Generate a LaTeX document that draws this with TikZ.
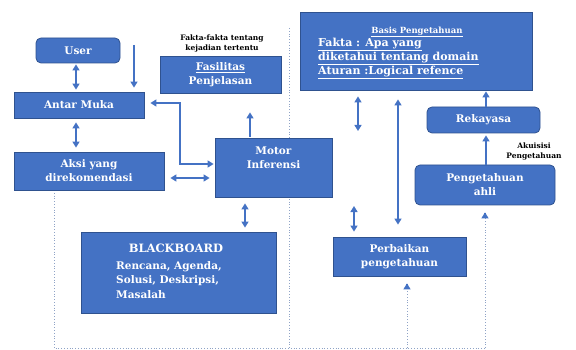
\documentclass[tikz,border=0pt]{standalone}
\usepackage{fontspec}
\setmainfont{DejaVu Serif}
\usetikzlibrary{arrows.meta,positioning}
\definecolor{boxblue}{HTML}{4472C4}
\definecolor{edgeblue}{HTML}{2F528F}
\definecolor{dotgrey}{HTML}{8FA3C6}

\begin{document}
\begin{tikzpicture}[x=1pt,y=-1pt,>={Triangle[length=6pt,width=7pt]},
  blok/.style={draw=edgeblue,line width=0.8pt,fill=boxblue,text=white,
    font=\bfseries\fontsize{10.5}{14}\selectfont,inner sep=0pt,align=center},
  bulat/.style={blok,rounded corners=5pt},
  conn/.style={draw=boxblue,line width=1.4pt},
  titik/.style={draw=dotgrey,line width=0.8pt,dotted}]
\useasboundingbox (0,0) rectangle (576,350);
% garis putus-putus
\draw[titik] (289,28)--(289,348);
\draw[titik] (54,190)--(54,348)--(485,348);
% kotak
\node[bulat,minimum width=84pt,minimum height=25pt] (user) at (78,50.5) {User};
\node[blok,minimum width=130pt,minimum height=26pt] (antar) at (79,105) {Antar Muka};
\node[blok,minimum width=150pt,minimum height=38pt] (aksi) at (89,171) {Aksi yang\\direkomendasi};
\node[blok,minimum width=117pt,minimum height=59pt] (motor) at (273.5,167.5) {Motor\\Inferensi\\[6pt]};
\node[blok,minimum width=121pt,minimum height=37pt] (fasil) at (220.5,74.5) {\underline{Fasilitas}\\Penjelasan};
\node[font=\bfseries\fontsize{7.5}{10}\selectfont,align=center,inner sep=0pt] (fakta) at (222,43) {Fakta-fakta tentang\\kejadian tertentu};
\node[blok,minimum width=195pt,minimum height=81pt] (bb) at (178.5,272.5) {};
\node[text=white,font=\bfseries\fontsize{11.5}{14}\selectfont,inner sep=0pt] (bbjudul) at (176,248) {BLACKBOARD};
\node[text=white,font=\bfseries\fontsize{10.5}{14.5}\selectfont,align=left,anchor=north west,inner sep=0pt] (bbisi) at (116,261) {Rencana, Agenda,\\Solusi, Deskripsi,\\Masalah};
\node[blok,minimum width=232pt,minimum height=78pt] (basis) at (416,51) {};
\node[text=white,font=\bfseries\fontsize{8.5}{10}\selectfont,inner sep=0pt] (basisjudul) at (417,32) {\underline{Basis Pengetahuan}};
\node[text=white,font=\bfseries\fontsize{11}{14}\selectfont,align=left,anchor=north west,inner sep=0pt] (basisisi) at (318,38)
  {\underline{Fakta : Apa yang}\\\underline{diketahui tentang domain}\\\underline{Aturan :Logical refence}};
\node[bulat,minimum width=113pt,minimum height=26pt] (rekayasa) at (483.5,120) {Rekayasa};
\node[bulat,minimum width=140pt,minimum height=40pt] (ahli) at (485,185) {Pengetahuan\\ahli};
\node[blok,minimum width=133pt,minimum height=39pt] (perbaikan) at (399.5,256.5) {Perbaikan\\pengetahuan};
\node[font=\bfseries\fontsize{7.5}{10}\selectfont,align=center,inner sep=0pt] (akuisisi) at (534,151) {Akuisisi\\Pengetahuan};
% panah
\coordinate (masuk) at (134,45);
\coordinate (motoratas) at (358,131);
\coordinate (perbatas) at (354,206);
\draw[conn,<->,shorten <=1pt,shorten >=2pt] (user.south -| 76,0) -- (antar.north -| 76,0);
\draw[conn,->,shorten >=4pt] (masuk) -- (antar.north -| masuk);
\draw[conn,<->,shorten <=4pt,shorten >=4pt] (antar.south -| 76,0) -- (aksi.north -| 76,0);
\draw[conn,<->,shorten <=6pt,shorten >=5pt] (aksi.east |- 0,178) -- (motor.west |- 0,178);
\draw[conn,<->,shorten <=6pt,shorten >=1pt] (antar.east |- 0,103) -| (180,164) -- (motor.west |- 0,164);
\draw[conn,->,shorten <=1pt,shorten >=19pt] (motor.north -| 250,0) -- (fasil.south -| 250,0);
\draw[conn,<->,shorten <=6pt,shorten >=4pt] (motor.south -| 245,0) -- (bb.north -| 245,0);
\draw[conn,<->,shorten <=6pt] (basis.south -| motoratas) -- (motoratas);
\draw[conn,<->,shorten >=5pt] (perbatas) -- (perbaikan.north -| perbatas);
\draw[conn,<->,shorten <=9pt,shorten >=12pt] (basis.south -| 398,0) -- (perbaikan.north -| 398,0);
\draw[conn,->,shorten >=1pt] (rekayasa.north -| 486,0) -- (basis.south -| 486,0);
\draw[conn,->,shorten >=2pt] (ahli.north -| 486,0) -- (rekayasa.south -| 486,0);
\draw[titik] (407,348) -- (407,284);
\draw[conn,->,shorten >=7pt] (407,284) -- (perbaikan.south -| 407,0);
\draw[titik] (485,348) -- (485,213);
\draw[conn,->,shorten >=7pt] (485,213) -- (ahli.south -| 485,0);
\end{tikzpicture}
\end{document}
